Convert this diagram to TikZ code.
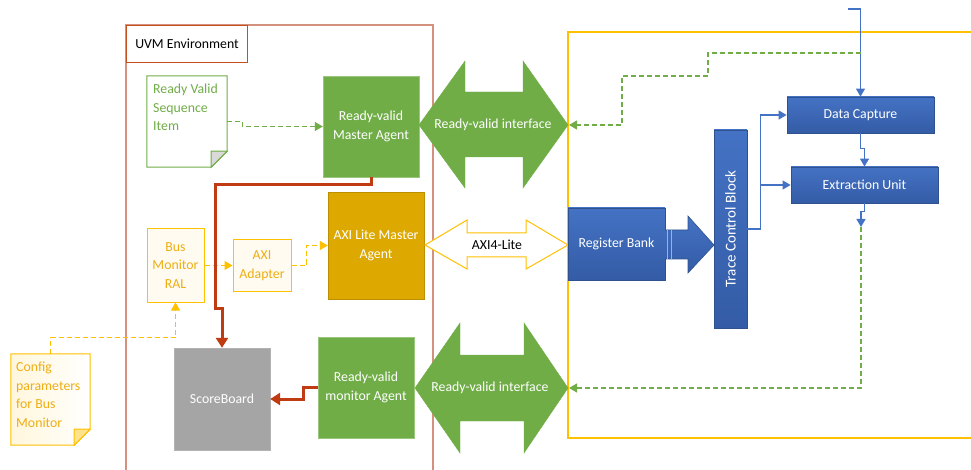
\documentclass[tikz,border=0pt]{standalone}
\usepackage{fontspec}
\setmainfont{Carlito}
\usetikzlibrary{arrows.meta}

\definecolor{rvgreen}{RGB}{112,173,71}
\definecolor{axigold}{RGB}{221,168,0}
\definecolor{axiyellow}{RGB}{255,192,0}
\definecolor{axitext}{RGB}{238,174,20}
\definecolor{dutblue}{RGB}{68,114,196}
\definecolor{dutblueD}{RGB}{52,92,166}
\definecolor{dutedge}{RGB}{47,82,143}
\definecolor{sbgray}{RGB}{165,165,165}
\definecolor{rust}{RGB}{192,58,18}
\definecolor{uvmedge}{RGB}{212,146,126}
\definecolor{uvmlabel}{RGB}{197,80,30}

\begin{document}
\begin{tikzpicture}[x=1pt, y=-1pt,
	every node/.style={font=\fontsize{13.8}{18.5}\selectfont, align=center, inner sep=0pt},
	agent/.style={fill=rvgreen, draw=rvgreen!70!white, text=white},
	axibox/.style={draw=axiyellow, fill=axiyellow!6, text=axitext, line width=1pt},
	blk/.style={top color=dutblue, bottom color=dutblueD, draw=dutedge, text=white, line width=0.8pt},
	gdash/.style={draw=rvgreen, dash pattern=on 5pt off 3pt, line width=1.2pt, -{Triangle[length=8pt,width=9pt]}},
	ydash/.style={draw=axiyellow, dash pattern=on 5pt off 3pt, line width=1.2pt, -{Triangle[length=8pt,width=9pt]}},
	bline/.style={draw=dutblue, line width=1.2pt, -{Triangle[length=8pt,width=9pt]}},
	rline/.style={draw=rust, line width=3pt, -{Triangle[length=10pt,width=12pt]}}]
		\useasboundingbox (0,0) rectangle (971,470);
		
		% Draw the UVM environment and the DUT frames
		\draw[uvmedge, line width=1.1pt] (126,470) -- (126,25) -- (433,25) -- (433,470);
		\node[draw=uvmlabel, line width=1.1pt, anchor=north west, minimum width=121, minimum height=37] (uvm) at (126,25) {UVM Environment};
		\draw[axiyellow, line width=1.1pt] (971,32) -- (568,32) -- (568,438) -- (971,438);
		
		% Sequence item note
		\node[minimum width=80, minimum height=91] (seq) at (187,121.5) {};
		\draw[rvgreen, fill=white, line width=1pt] (seq.north west) -- (seq.north east) -- ([yshift=16pt]seq.south east) -- ([xshift=-16pt]seq.south east) -- (seq.south west) -- cycle;
		\draw[rvgreen, fill=black!15, line width=1pt] ([xshift=-16pt,yshift=16pt]seq.south east) -- ([yshift=16pt]seq.south east) -- ([xshift=-16pt]seq.south east) -- cycle;
		\node[anchor=north west, align=left, text=rvgreen] at (153,84) {Ready Valid\\Sequence\\Item};
		
		% Config note
		\node[minimum width=79, minimum height=91] (cfg) at (50.5,399.5) {};
		\draw[axiyellow, left color=axiyellow!14, right color=white, line width=1pt] (cfg.north west) -- (cfg.north east) -- ([yshift=16pt]cfg.south east) -- ([xshift=-16pt]cfg.south east) -- (cfg.south west) -- cycle;
		\draw[axiyellow, fill=axiyellow!45, line width=1pt] ([xshift=-16pt,yshift=16pt]cfg.south east) -- ([yshift=16pt]cfg.south east) -- ([xshift=-16pt]cfg.south east) -- cycle;
		\node[anchor=north west, align=left, text=axitext] at (16,362) {Config\\parameters\\for Bus\\Monitor};
		
		% Agents, adapter and scoreboard
		\node[agent, minimum width=96, minimum height=101] (ma) at (371,126.5) {Ready-valid\\Master Agent};
		\node[agent, minimum width=96, minimum height=101] (mon) at (366,387.5) {Ready-valid\\monitor Agent};
		\node[fill=axigold, draw=axigold!85!black, text=white, minimum width=96, minimum height=107] (axm) at (376,245.5) {AXI Lite Master\\Agent};
		\node[axibox, minimum width=57, minimum height=73] (ral) at (175.5,265.5) {Bus\\Monitor\\RAL};
		\node[axibox, minimum width=58, minimum height=51] (ad) at (262,265.5) {AXI\\Adapter};
		\node[fill=sbgray, draw=sbgray!85!white, text=white, minimum width=96, minimum height=102] (sb) at (222,399) {ScoreBoard};
		
		% Interface arrows
		\filldraw[rvgreen] (419,125) -- (465,61) -- (465,92) -- (523,92) -- (523,61) -- (568,125) -- (523,188) -- (523,157) -- (465,157) -- (465,188) -- cycle;
		\node[text=white] (rvtop) at (493,125) {Ready-valid interface};
		\coordinate (rvtopR) at (569,125);
		\draw[axiyellow, fill=white, line width=1pt] (425,245) -- (467,220) -- (467,233) -- (526,233) -- (526,220) -- (568,245) -- (526,269) -- (526,257) -- (467,257) -- (467,269) -- cycle;
		\node (axil) at (497,245) {AXI4-Lite};
		\filldraw[rvgreen] (415,388) -- (460,323) -- (460,355) -- (524,355) -- (524,323) -- (568,388) -- (524,453) -- (524,421) -- (460,421) -- (460,453) -- cycle;
		\node[text=white] (rvbot) at (490,388) {Ready-valid interface};
		\coordinate (rvbotR) at (569,388);
		
		% DUT blocks
		\node[blk, minimum width=97, minimum height=72] (rb) at (616.5,244) {Register Bank};
		\node[blk, minimum width=33, minimum height=198] (tcb) at (730.5,229) {};
		\node[text=white, rotate=90, font=\fontsize{15}{18}\selectfont] at (tcb.center) {Trace Control Block};
		\node[blk, minimum width=147, minimum height=36] (dc) at (860.5,115) {Data Capture};
		\node[blk, minimum width=147, minimum height=36] (eu) at (864.5,185) {Extraction Unit};
		\shade[top color=dutblue, bottom color=dutblueD] (665,230) -- (688,230) -- (688,216) -- (714,245) -- (688,273) -- (688,259) -- (665,259) -- cycle;
		\draw[dutedge, line width=0.6pt] (665,230) -- (688,230) -- (688,216) -- (714,245) -- (688,273) -- (688,259) -- (665,259);
		\draw[dutblue!55!white, line width=0.6pt] (667,230) -- (667,259) (671,230) -- (671,259);
		
		% Blue connectors inside the DUT
		\coordinate (trin) at (848,9);
		\coordinate (tap) at (860.5,53);
		\coordinate (eout) at (861,227);
		\draw[bline] (trin) -| (dc.north);
		\draw[bline] (dc.south) -- ++(0,15) -| (eu.north);
		\draw[bline] (eu.south) -- ++(0,8) -| (eout);
		\draw[bline] (tcb.east) -- ++(13,0) |- (dc.west);
		\draw[bline] (tcb.east) -- ++(13,0) |- (eu.west);
		
		% Dashed feedback paths
		\draw[gdash] (tap) -- (708,53) -- (708,76) -- (622,76) |- (rvtopR);
		\draw[gdash] (eout) |- (rvbotR);
		\draw[gdash] (seq.east) -- ++(15,0) |- (ma.west);
		\draw[ydash] (ral.east) -- (ad.west);
		\draw[ydash] (ad.east) -- ++(15,0) |- (axm.west);
		\draw[ydash] (cfg.north) -- ++(0,-16) -| (ral.south);
		
		% Scoreboard inputs
		\draw[rline] (ma.south) |- (215,185) -- (215,308) -| (sb.north);
		\draw[rline] (mon.west) -- ++(-14,0) |- (sb.east);
		
	\end{tikzpicture}
\end{document}
